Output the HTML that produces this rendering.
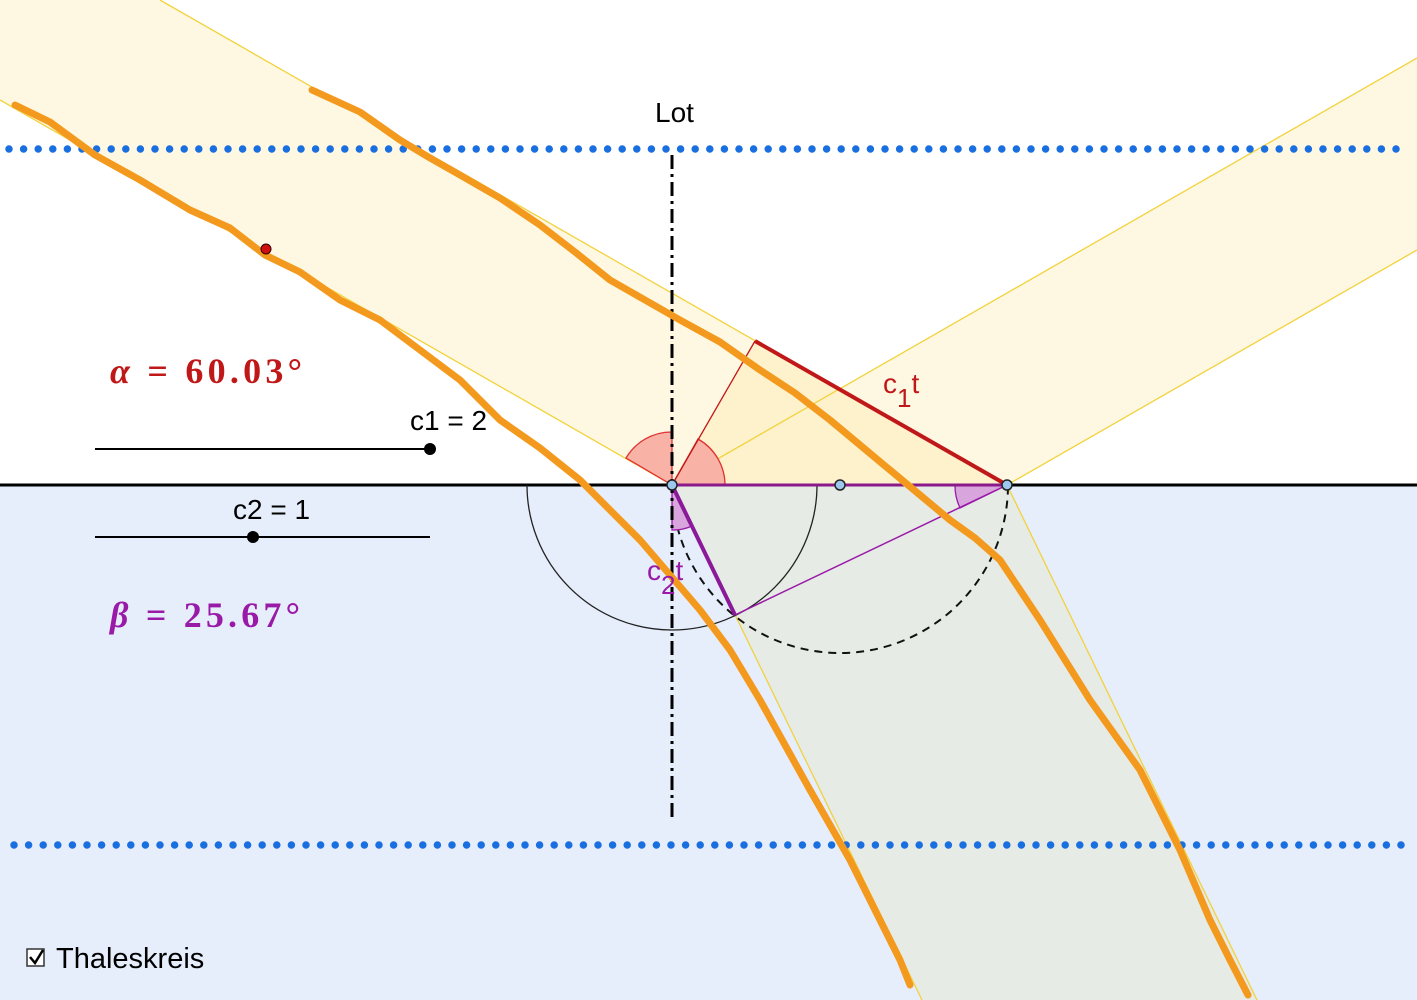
<!DOCTYPE html>
<html><head><meta charset="utf-8"><style>
html,body{margin:0;padding:0;width:1417px;height:1000px;overflow:hidden;background:#fff}
svg{display:block}
text{font-family:"Liberation Sans",sans-serif}
</style></head><body>
<svg width="1417" height="1000" viewBox="0 0 1417 1000">
<rect x="0" y="485" width="1417" height="515" fill="#e6eefc"/>
<polygon points="0,0 160,0 1007,485 672,485 0,100" fill="#fef8e2"/>
<polygon points="672,485 1417,58 1417,250 1007,485" fill="#fef8e2"/>
<polygon points="672,485 755,341 1007,485" fill="#fdeec0" opacity="0.6"/>
<polygon points="672,485 1007,485 1257,1000 922,1000" fill="#e6ebe5"/>
<g stroke="#f2d23c" stroke-width="1.3" fill="none">
<line x1="160" y1="0" x2="1007" y2="485"/><line x1="0" y1="100" x2="672" y2="485"/>
<line x1="672" y1="485" x2="1417" y2="58"/><line x1="1007" y1="485" x2="1417" y2="250"/>
<line x1="672" y1="485" x2="922" y2="1000"/><line x1="1007" y1="485" x2="1257" y2="1000"/>
</g>
<line x1="9" y1="149" x2="1410" y2="149" stroke="#1a6fe0" stroke-width="7.5" stroke-linecap="round" stroke-dasharray="0 14.6"/>
<line x1="14" y1="845" x2="1410" y2="845" stroke="#1a6fe0" stroke-width="7.5" stroke-linecap="round" stroke-dasharray="0 14.6"/>
<line x1="0" y1="485" x2="1417" y2="485" stroke="#000" stroke-width="3"/>
<path d="M527,485 A145,145 0 0 0 817,485" fill="none" stroke="#222" stroke-width="1.3"/>
<path d="M672,485 A168,168 0 0 0 1008,485" fill="none" stroke="#111" stroke-width="2" stroke-dasharray="8 6"/>
<path d="M672,485 L672,432 A53,53 0 0 0 626,458 Z" fill="#f9b3a6" stroke="#e03030" stroke-width="1.3"/>
<path d="M672,485 L725,485 A53,53 0 0 0 698,439 Z" fill="#f9b3a6" stroke="#e03030" stroke-width="1.3"/>
<path d="M672,485 L672,530 A45,45 0 0 0 692,526 Z" fill="#d8a6dc" stroke="#9a1aa8" stroke-width="1.3"/>
<path d="M1007,485 L955,485 A52,52 0 0 0 960,508 Z" fill="#d8a6dc" stroke="#9a1aa8" stroke-width="1.3"/>
<line x1="672" y1="485" x2="1007" y2="485" stroke="#8a1a8a" stroke-width="3"/>
<line x1="672" y1="485" x2="755" y2="341" stroke="#c01818" stroke-width="1.3"/>
<line x1="755" y1="341" x2="1007" y2="485" stroke="#c01818" stroke-width="4"/>
<line x1="672" y1="485" x2="735" y2="615" stroke="#8a1a9a" stroke-width="4"/>
<line x1="735" y1="615" x2="1007" y2="485" stroke="#9a1aa8" stroke-width="1.5"/>
<line x1="672" y1="155" x2="672" y2="820" stroke="#000" stroke-width="3" stroke-dasharray="14 5 3 5"/>
<g stroke="#f39a1e" stroke-width="7" fill="none" stroke-linecap="round" stroke-linejoin="round">
<polyline points="15,105 50,122 95,155 140,180 190,210 230,228 265,255 300,272 340,300 380,320 420,350 460,380 500,420 540,448 580,480 610,510 640,540 670,575 700,610 730,650 760,700 785,745 810,790 830,825 850,860 870,900 890,940 900,960 910,985"/>
<polyline points="312,90 360,112 400,140 430,158 460,175 500,198 540,225 575,252 610,280 645,300 680,320 720,342 760,370 795,393 830,420 860,445 890,470 920,495 950,520 975,538 1000,560 1020,590 1040,620 1065,660 1090,700 1115,735 1140,770 1160,810 1180,850 1195,885 1210,920 1230,960 1248,995"/>
</g>
<circle cx="672" cy="485" r="5" fill="#9cc8f0" stroke="#222" stroke-width="1.5"/>
<circle cx="840" cy="485" r="5" fill="#9cc8f0" stroke="#222" stroke-width="1.5"/>
<circle cx="1007" cy="485" r="5" fill="#9cc8f0" stroke="#222" stroke-width="1.5"/>
<circle cx="266" cy="249" r="5" fill="#d01010" stroke="#300" stroke-width="1"/>
<line x1="95" y1="449" x2="430" y2="449" stroke="#000" stroke-width="2"/>
<circle cx="430" cy="449" r="6" fill="#000"/>
<line x1="95" y1="537" x2="430" y2="537" stroke="#000" stroke-width="2"/>
<circle cx="253" cy="537" r="6" fill="#000"/>
<text x="655" y="122" font-size="28" fill="#000">Lot</text>
<text x="410" y="430" font-size="28" fill="#000">c1 = 2</text>
<text x="233" y="519" font-size="28" fill="#000">c2 = 1</text>
<text x="110" y="383" font-size="36" font-weight="bold" fill="#c01818" textLength="192" lengthAdjust="spacing" style="font-family:'Liberation Serif',serif"><tspan font-style="italic">α</tspan> = 60.03°</text>
<text x="110" y="627" font-size="36" font-weight="bold" fill="#9a1aa8" textLength="190" lengthAdjust="spacing" style="font-family:'Liberation Serif',serif"><tspan font-style="italic">β</tspan> = 25.67°</text>
<text x="883" y="393" font-size="28" fill="#c01818">c<tspan dy="14" font-size="26">1</tspan><tspan dy="-14">t</tspan></text>
<text x="647" y="580" font-size="28" fill="#9a1aa8">c<tspan dy="14" font-size="26">2</tspan><tspan dy="-14">t</tspan></text>
<rect x="27" y="949" width="17" height="17" fill="#fff" stroke="#333" stroke-width="1.5"/>
<path d="M30,957 L35,963 L43,950" fill="none" stroke="#000" stroke-width="2.5"/>
<text x="56" y="968" font-size="29" fill="#000">Thaleskreis</text>
</svg>
</body></html>
